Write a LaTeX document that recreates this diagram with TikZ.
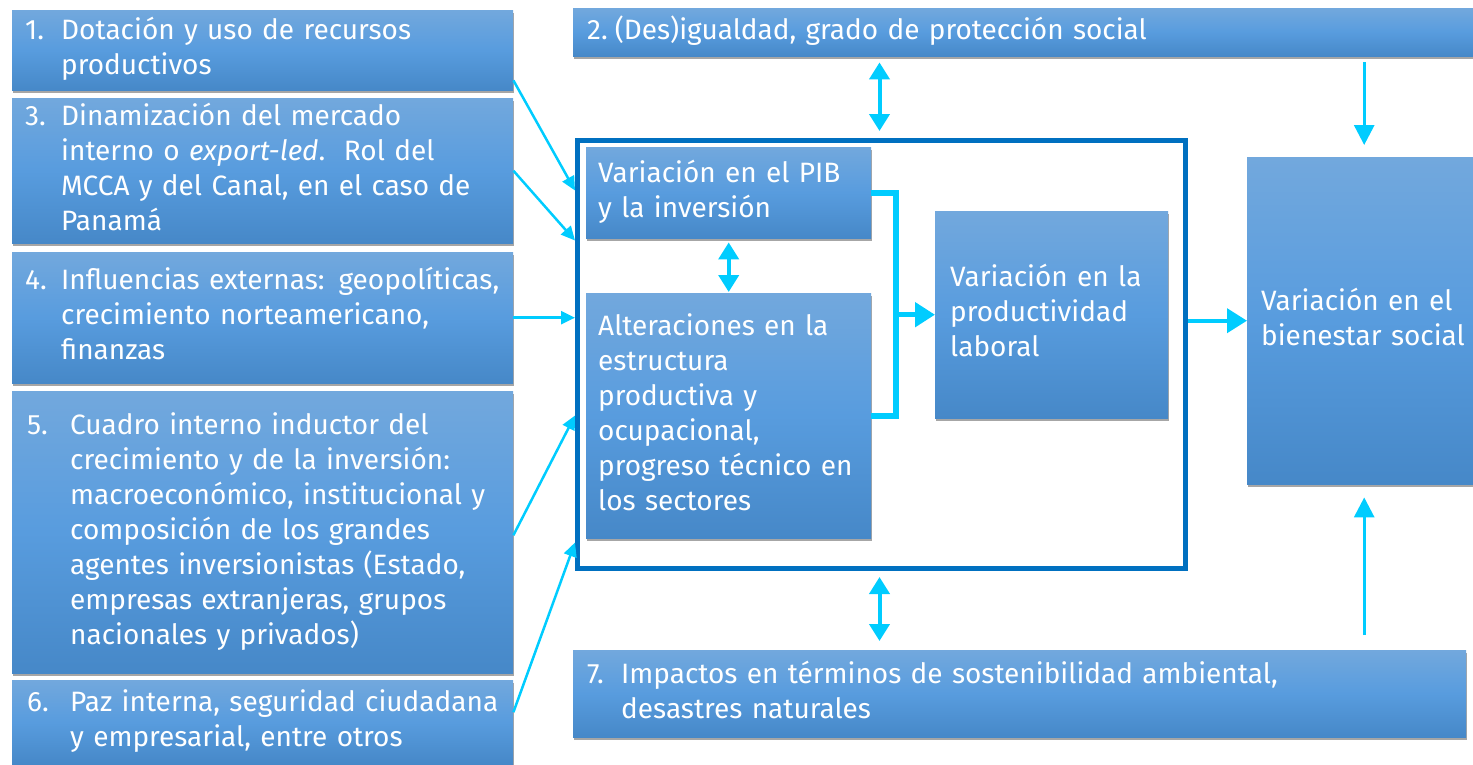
\documentclass[tikz,border=0pt]{standalone}
\usepackage{fontspec}
\setmainfont{Fira Sans}
\usetikzlibrary{shadows,arrows.meta}
\definecolor{btop}{RGB}{114,168,221}
\definecolor{bmid}{RGB}{88,156,222}
\definecolor{bbot}{RGB}{70,136,200}
\definecolor{arr}{RGB}{0,204,255}
\definecolor{frameblue}{RGB}{0,112,192}
\newcommand{\numtxt}[3]{\begin{tabular}{@{}p{#2}@{}l@{}}#1 & #3\end{tabular}}
\newcommand{\plaintxt}[1]{\begin{tabular}{@{}l@{}}#1\end{tabular}}
\tikzset{
  bx/.style={rectangle, top color=btop, bottom color=bbot, middle color=bmid,
    text=white, anchor=north west, inner ysep=0pt, align=left,
    font=\fontsize{28}{35}\selectfont,
    drop shadow={shadow xshift=1pt, shadow yshift=-3pt, opacity=0.35, fill=black}},
  la/.style={draw=arr, line width=2.5pt, -{Triangle[length=14pt,width=13pt]}},
  dbl/.style={draw=arr, line width=4pt, {Triangle[length=17pt,width=20pt]}-{Triangle[length=17pt,width=20pt]}},
  va/.style={draw=arr, line width=3pt, -{Triangle[length=20pt,width=20pt]}},
  br/.style={draw=arr, line width=6pt},
  ba/.style={draw=arr, line width=5pt, -{Triangle[length=20pt,width=24pt]}},
}
\begin{document}
\begin{tikzpicture}[x=1pt,y=-1pt]
\useasboundingbox (0,0) rectangle (1473,764);
% left boxes
\node[bx, minimum height=80pt, text width=475pt, inner xsep=13pt] (b1) at (12,10)
  {\numtxt{1.}{36pt}{Dotación y uso de recursos\\ & productivos}};
\node[bx, minimum height=145pt, text width=475pt, inner xsep=13pt] (b3) at (12,98)
  {\numtxt{3.}{36pt}{Dinamización del mercado\\ & interno o \textit{export-led}.\ \ Rol del\\ & MCCA y del Canal, en el caso de\\ & Panamá}};
\node[bx, minimum height=131pt, text width=475pt, inner xsep=13pt] (b4) at (12,252)
  {\numtxt{4.}{36pt}{Influencias externas: geopolíticas,\\ & crecimiento norteamericano,\\ & finanzas}};
\node[bx, minimum height=282pt, text width=471pt, inner xsep=15pt] (b5) at (12,391)
  {\numtxt{5.}{43pt}{Cuadro interno inductor del\\ & crecimiento y de la inversión:\\ & macroeconómico, institucional y\\ & composición de los grandes\\ & agentes inversionistas (Estado,\\ & empresas extranjeras, grupos\\ & nacionales y privados)}};
\node[bx, minimum height=84pt, text width=471pt, inner xsep=15pt] (b6) at (12,680)
  {\numtxt{6.}{43pt}{Paz interna, seguridad ciudadana\\ & y empresarial, entre otros}};
% top and bottom boxes
\node[bx, minimum height=48pt, text width=872pt, inner xsep=14pt] (b2) at (573,8)
  {\plaintxt{2.\hspace{7pt}(Des)igualdad, grado de protección social}};
\node[bx, minimum height=87pt, text width=865pt, inner xsep=14pt] (b7) at (573,650)
  {\numtxt{7.}{34pt}{Impactos en términos de sostenibilidad ambiental,\\ & desastres naturales}};
% frame
\node[draw=frameblue, line width=5pt, minimum width=608pt, minimum height=428pt,
  anchor=north west, inner sep=0pt] (fr) at (575,138) {};
% inner boxes
\node[bx, minimum height=91pt, text width=261pt, inner xsep=12pt] (pib) at (586,147)
  {\plaintxt{Variación en el PIB\\y la inversión}};
\node[bx, minimum height=245pt, text width=261pt, inner xsep=12pt] (alt) at (586,293)
  {\plaintxt{Alteraciones en la\\estructura\\productiva y\\ocupacional,\\progreso técnico en\\los sectores}};
\node[bx, minimum height=207pt, text width=203pt, inner xsep=15pt] (prod) at (935,211)
  {\plaintxt{Variación en la\\productividad\\laboral}};
\node[bx, minimum height=327pt, text width=198pt, inner xsep=14pt] (bien) at (1247,157)
  {\plaintxt{Variación en el\\bienestar social}};
% arrows from left
\draw[la] ([yshift=10pt]b1.south east) -- ([yshift=-52.5pt]fr.north west);
\draw[la] (b3.east) -- ([yshift=-102.5pt]fr.north west);
\draw[la] (b4.east) -- (b4.east -| fr.west);
\draw[la] ([yshift=-3pt]b5.east) -- ([yshift=-277.5pt]fr.north west);
\draw[la] ([yshift=10pt]b6.east) -- ([yshift=-404.5pt]fr.north west);
% double arrows
\draw[dbl, shorten <=4pt, shorten >=1pt] (pib.south) -- (alt.north);
\draw[dbl, shorten <=6pt, shorten >=7pt] ([xshift=-2pt]b2.south -| fr.north) -- ([xshift=-2pt]fr.north);
\draw[dbl, shorten <=6pt, shorten >=9pt] ([xshift=-2pt]fr.south) -- ([xshift=-2pt]fr.south |- b7.north);
% vertical arrows to bienestar
\draw[va, shorten <=6pt, shorten >=12pt] ([xshift=4pt]b2.south -| bien.north) -- ([xshift=4pt]bien.north);
\draw[va, shorten <=15pt, shorten >=13pt] ([xshift=4pt]b7.north -| bien.south) -- ([xshift=4pt]bien.south);
% bracket
\draw[br] (pib.east) -- ++(25,0) |- (alt.east);
\draw[ba] ([xshift=-41pt]prod.west) -- (prod.west);
\draw[ba, line width=4pt] (bien.west -| fr.east) -- (bien.west);
\end{tikzpicture}
\end{document}
